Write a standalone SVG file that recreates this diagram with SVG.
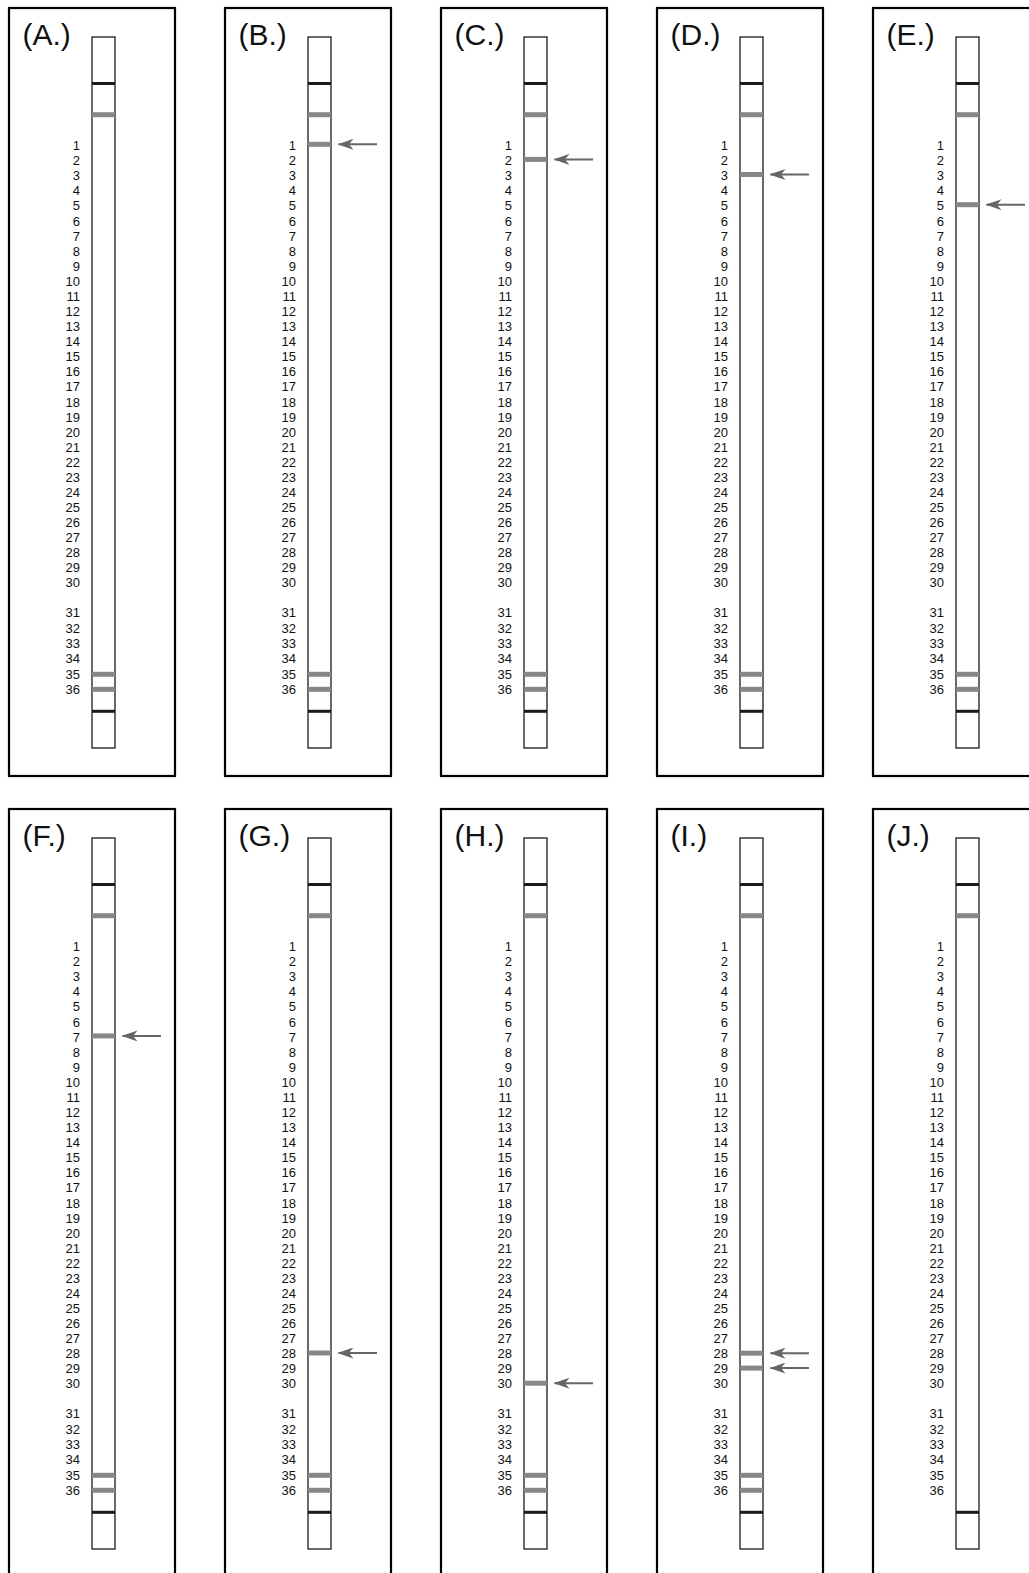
<svg xmlns="http://www.w3.org/2000/svg" width="1029" height="1573" viewBox="0 0 1029 1573">
<style>
.frame{fill:none;stroke:#000;stroke-width:2.2}
.strip{fill:#fff;stroke:#1a1a1a;stroke-width:1.3}
.blk{fill:#1a1a1a}
.gry{fill:#878787}
.ttl{font-family:"Liberation Sans",Arial,sans-serif;font-size:30px;fill:#111}
.lbl{font-family:"Liberation Sans",Arial,sans-serif;font-size:13px;fill:#111;text-anchor:end}
.arr{stroke:#666;stroke-width:2;fill:none}
</style>
<defs>
<marker id="ah" markerUnits="userSpaceOnUse" viewBox="0 0 16 11" refX="15" refY="5.5" markerWidth="16" markerHeight="11" orient="auto">
<path d="M0,0 L16,5.5 L0,11 L4.5,5.5 Z" fill="#666"/>
</marker>
</defs>
<g id="panel-A" transform="translate(0,0)">
<rect class="frame" x="9" y="8" width="166" height="768"/>
<text class="ttl" x="22.5" y="44.5">(A.)</text>
<rect class="strip" x="92" y="37" width="23" height="711"/>
<rect class="blk" x="92" y="82" width="23" height="3"/>
<rect class="gry" x="92" y="112.2" width="23" height="5"/>
<rect class="gry" x="92" y="671.8" width="23" height="5"/>
<rect class="gry" x="92" y="686.8" width="23" height="5"/>
<rect class="blk" x="92" y="709.8" width="23" height="3"/>
<text class="lbl"><tspan x="80" y="150.1">1</tspan><tspan x="80" y="165.2">2</tspan><tspan x="80" y="180.3">3</tspan><tspan x="80" y="195.3">4</tspan><tspan x="80" y="210.4">5</tspan><tspan x="80" y="225.5">6</tspan><tspan x="80" y="240.6">7</tspan><tspan x="80" y="255.7">8</tspan><tspan x="80" y="270.7">9</tspan><tspan x="80" y="285.8">10</tspan><tspan x="80" y="300.9">11</tspan><tspan x="80" y="316">12</tspan><tspan x="80" y="331.1">13</tspan><tspan x="80" y="346.1">14</tspan><tspan x="80" y="361.2">15</tspan><tspan x="80" y="376.3">16</tspan><tspan x="80" y="391.4">17</tspan><tspan x="80" y="406.5">18</tspan><tspan x="80" y="421.5">19</tspan><tspan x="80" y="436.6">20</tspan><tspan x="80" y="451.7">21</tspan><tspan x="80" y="466.8">22</tspan><tspan x="80" y="481.9">23</tspan><tspan x="80" y="496.9">24</tspan><tspan x="80" y="512">25</tspan><tspan x="80" y="527.1">26</tspan><tspan x="80" y="542.2">27</tspan><tspan x="80" y="557.3">28</tspan><tspan x="80" y="572.4">29</tspan><tspan x="80" y="587.4">30</tspan><tspan x="80" y="617.3">31</tspan><tspan x="80" y="632.6">32</tspan><tspan x="80" y="647.9">33</tspan><tspan x="80" y="663.2">34</tspan><tspan x="80" y="678.5">35</tspan><tspan x="80" y="693.8">36</tspan></text>
</g>
<g id="panel-B" transform="translate(216,0)">
<rect class="frame" x="9" y="8" width="166" height="768"/>
<text class="ttl" x="22.5" y="44.5">(B.)</text>
<rect class="strip" x="92" y="37" width="23" height="711"/>
<rect class="blk" x="92" y="82" width="23" height="3"/>
<rect class="gry" x="92" y="112.2" width="23" height="5"/>
<rect class="gry" x="92" y="141.8" width="23" height="5"/>
<rect class="gry" x="92" y="671.8" width="23" height="5"/>
<rect class="gry" x="92" y="686.8" width="23" height="5"/>
<rect class="blk" x="92" y="709.8" width="23" height="3"/>
<text class="lbl"><tspan x="80" y="150.1">1</tspan><tspan x="80" y="165.2">2</tspan><tspan x="80" y="180.3">3</tspan><tspan x="80" y="195.3">4</tspan><tspan x="80" y="210.4">5</tspan><tspan x="80" y="225.5">6</tspan><tspan x="80" y="240.6">7</tspan><tspan x="80" y="255.7">8</tspan><tspan x="80" y="270.7">9</tspan><tspan x="80" y="285.8">10</tspan><tspan x="80" y="300.9">11</tspan><tspan x="80" y="316">12</tspan><tspan x="80" y="331.1">13</tspan><tspan x="80" y="346.1">14</tspan><tspan x="80" y="361.2">15</tspan><tspan x="80" y="376.3">16</tspan><tspan x="80" y="391.4">17</tspan><tspan x="80" y="406.5">18</tspan><tspan x="80" y="421.5">19</tspan><tspan x="80" y="436.6">20</tspan><tspan x="80" y="451.7">21</tspan><tspan x="80" y="466.8">22</tspan><tspan x="80" y="481.9">23</tspan><tspan x="80" y="496.9">24</tspan><tspan x="80" y="512">25</tspan><tspan x="80" y="527.1">26</tspan><tspan x="80" y="542.2">27</tspan><tspan x="80" y="557.3">28</tspan><tspan x="80" y="572.4">29</tspan><tspan x="80" y="587.4">30</tspan><tspan x="80" y="617.3">31</tspan><tspan x="80" y="632.6">32</tspan><tspan x="80" y="647.9">33</tspan><tspan x="80" y="663.2">34</tspan><tspan x="80" y="678.5">35</tspan><tspan x="80" y="693.8">36</tspan></text>
</g>
<g id="panel-C" transform="translate(432,0)">
<rect class="frame" x="9" y="8" width="166" height="768"/>
<text class="ttl" x="22.5" y="44.5">(C.)</text>
<rect class="strip" x="92" y="37" width="23" height="711"/>
<rect class="blk" x="92" y="82" width="23" height="3"/>
<rect class="gry" x="92" y="112.2" width="23" height="5"/>
<rect class="gry" x="92" y="156.9" width="23" height="5"/>
<rect class="gry" x="92" y="671.8" width="23" height="5"/>
<rect class="gry" x="92" y="686.8" width="23" height="5"/>
<rect class="blk" x="92" y="709.8" width="23" height="3"/>
<text class="lbl"><tspan x="80" y="150.1">1</tspan><tspan x="80" y="165.2">2</tspan><tspan x="80" y="180.3">3</tspan><tspan x="80" y="195.3">4</tspan><tspan x="80" y="210.4">5</tspan><tspan x="80" y="225.5">6</tspan><tspan x="80" y="240.6">7</tspan><tspan x="80" y="255.7">8</tspan><tspan x="80" y="270.7">9</tspan><tspan x="80" y="285.8">10</tspan><tspan x="80" y="300.9">11</tspan><tspan x="80" y="316">12</tspan><tspan x="80" y="331.1">13</tspan><tspan x="80" y="346.1">14</tspan><tspan x="80" y="361.2">15</tspan><tspan x="80" y="376.3">16</tspan><tspan x="80" y="391.4">17</tspan><tspan x="80" y="406.5">18</tspan><tspan x="80" y="421.5">19</tspan><tspan x="80" y="436.6">20</tspan><tspan x="80" y="451.7">21</tspan><tspan x="80" y="466.8">22</tspan><tspan x="80" y="481.9">23</tspan><tspan x="80" y="496.9">24</tspan><tspan x="80" y="512">25</tspan><tspan x="80" y="527.1">26</tspan><tspan x="80" y="542.2">27</tspan><tspan x="80" y="557.3">28</tspan><tspan x="80" y="572.4">29</tspan><tspan x="80" y="587.4">30</tspan><tspan x="80" y="617.3">31</tspan><tspan x="80" y="632.6">32</tspan><tspan x="80" y="647.9">33</tspan><tspan x="80" y="663.2">34</tspan><tspan x="80" y="678.5">35</tspan><tspan x="80" y="693.8">36</tspan></text>
</g>
<g id="panel-D" transform="translate(648,0)">
<rect class="frame" x="9" y="8" width="166" height="768"/>
<text class="ttl" x="22.5" y="44.5">(D.)</text>
<rect class="strip" x="92" y="37" width="23" height="711"/>
<rect class="blk" x="92" y="82" width="23" height="3"/>
<rect class="gry" x="92" y="112.2" width="23" height="5"/>
<rect class="gry" x="92" y="172" width="23" height="5"/>
<rect class="gry" x="92" y="671.8" width="23" height="5"/>
<rect class="gry" x="92" y="686.8" width="23" height="5"/>
<rect class="blk" x="92" y="709.8" width="23" height="3"/>
<text class="lbl"><tspan x="80" y="150.1">1</tspan><tspan x="80" y="165.2">2</tspan><tspan x="80" y="180.3">3</tspan><tspan x="80" y="195.3">4</tspan><tspan x="80" y="210.4">5</tspan><tspan x="80" y="225.5">6</tspan><tspan x="80" y="240.6">7</tspan><tspan x="80" y="255.7">8</tspan><tspan x="80" y="270.7">9</tspan><tspan x="80" y="285.8">10</tspan><tspan x="80" y="300.9">11</tspan><tspan x="80" y="316">12</tspan><tspan x="80" y="331.1">13</tspan><tspan x="80" y="346.1">14</tspan><tspan x="80" y="361.2">15</tspan><tspan x="80" y="376.3">16</tspan><tspan x="80" y="391.4">17</tspan><tspan x="80" y="406.5">18</tspan><tspan x="80" y="421.5">19</tspan><tspan x="80" y="436.6">20</tspan><tspan x="80" y="451.7">21</tspan><tspan x="80" y="466.8">22</tspan><tspan x="80" y="481.9">23</tspan><tspan x="80" y="496.9">24</tspan><tspan x="80" y="512">25</tspan><tspan x="80" y="527.1">26</tspan><tspan x="80" y="542.2">27</tspan><tspan x="80" y="557.3">28</tspan><tspan x="80" y="572.4">29</tspan><tspan x="80" y="587.4">30</tspan><tspan x="80" y="617.3">31</tspan><tspan x="80" y="632.6">32</tspan><tspan x="80" y="647.9">33</tspan><tspan x="80" y="663.2">34</tspan><tspan x="80" y="678.5">35</tspan><tspan x="80" y="693.8">36</tspan></text>
</g>
<g id="panel-E" transform="translate(864,0)">
<rect class="frame" x="9" y="8" width="166" height="768"/>
<text class="ttl" x="22.5" y="44.5">(E.)</text>
<rect class="strip" x="92" y="37" width="23" height="711"/>
<rect class="blk" x="92" y="82" width="23" height="3"/>
<rect class="gry" x="92" y="112.2" width="23" height="5"/>
<rect class="gry" x="92" y="202.2" width="23" height="5"/>
<rect class="gry" x="92" y="671.8" width="23" height="5"/>
<rect class="gry" x="92" y="686.8" width="23" height="5"/>
<rect class="blk" x="92" y="709.8" width="23" height="3"/>
<text class="lbl"><tspan x="80" y="150.1">1</tspan><tspan x="80" y="165.2">2</tspan><tspan x="80" y="180.3">3</tspan><tspan x="80" y="195.3">4</tspan><tspan x="80" y="210.4">5</tspan><tspan x="80" y="225.5">6</tspan><tspan x="80" y="240.6">7</tspan><tspan x="80" y="255.7">8</tspan><tspan x="80" y="270.7">9</tspan><tspan x="80" y="285.8">10</tspan><tspan x="80" y="300.9">11</tspan><tspan x="80" y="316">12</tspan><tspan x="80" y="331.1">13</tspan><tspan x="80" y="346.1">14</tspan><tspan x="80" y="361.2">15</tspan><tspan x="80" y="376.3">16</tspan><tspan x="80" y="391.4">17</tspan><tspan x="80" y="406.5">18</tspan><tspan x="80" y="421.5">19</tspan><tspan x="80" y="436.6">20</tspan><tspan x="80" y="451.7">21</tspan><tspan x="80" y="466.8">22</tspan><tspan x="80" y="481.9">23</tspan><tspan x="80" y="496.9">24</tspan><tspan x="80" y="512">25</tspan><tspan x="80" y="527.1">26</tspan><tspan x="80" y="542.2">27</tspan><tspan x="80" y="557.3">28</tspan><tspan x="80" y="572.4">29</tspan><tspan x="80" y="587.4">30</tspan><tspan x="80" y="617.3">31</tspan><tspan x="80" y="632.6">32</tspan><tspan x="80" y="647.9">33</tspan><tspan x="80" y="663.2">34</tspan><tspan x="80" y="678.5">35</tspan><tspan x="80" y="693.8">36</tspan></text>
</g>
<g id="panel-F" transform="translate(0,801)">
<rect class="frame" x="9" y="8" width="166" height="800"/>
<text class="ttl" x="22.5" y="44.5">(F.)</text>
<rect class="strip" x="92" y="37" width="23" height="711"/>
<rect class="blk" x="92" y="82" width="23" height="3"/>
<rect class="gry" x="92" y="112.2" width="23" height="5"/>
<rect class="gry" x="92" y="232.4" width="23" height="5"/>
<rect class="gry" x="92" y="671.8" width="23" height="5"/>
<rect class="gry" x="92" y="686.8" width="23" height="5"/>
<rect class="blk" x="92" y="709.8" width="23" height="3"/>
<text class="lbl"><tspan x="80" y="150.1">1</tspan><tspan x="80" y="165.2">2</tspan><tspan x="80" y="180.3">3</tspan><tspan x="80" y="195.3">4</tspan><tspan x="80" y="210.4">5</tspan><tspan x="80" y="225.5">6</tspan><tspan x="80" y="240.6">7</tspan><tspan x="80" y="255.7">8</tspan><tspan x="80" y="270.7">9</tspan><tspan x="80" y="285.8">10</tspan><tspan x="80" y="300.9">11</tspan><tspan x="80" y="316">12</tspan><tspan x="80" y="331.1">13</tspan><tspan x="80" y="346.1">14</tspan><tspan x="80" y="361.2">15</tspan><tspan x="80" y="376.3">16</tspan><tspan x="80" y="391.4">17</tspan><tspan x="80" y="406.5">18</tspan><tspan x="80" y="421.5">19</tspan><tspan x="80" y="436.6">20</tspan><tspan x="80" y="451.7">21</tspan><tspan x="80" y="466.8">22</tspan><tspan x="80" y="481.9">23</tspan><tspan x="80" y="496.9">24</tspan><tspan x="80" y="512">25</tspan><tspan x="80" y="527.1">26</tspan><tspan x="80" y="542.2">27</tspan><tspan x="80" y="557.3">28</tspan><tspan x="80" y="572.4">29</tspan><tspan x="80" y="587.4">30</tspan><tspan x="80" y="617.3">31</tspan><tspan x="80" y="632.6">32</tspan><tspan x="80" y="647.9">33</tspan><tspan x="80" y="663.2">34</tspan><tspan x="80" y="678.5">35</tspan><tspan x="80" y="693.8">36</tspan></text>
</g>
<g id="panel-G" transform="translate(216,801)">
<rect class="frame" x="9" y="8" width="166" height="800"/>
<text class="ttl" x="22.5" y="44.5">(G.)</text>
<rect class="strip" x="92" y="37" width="23" height="711"/>
<rect class="blk" x="92" y="82" width="23" height="3"/>
<rect class="gry" x="92" y="112.2" width="23" height="5"/>
<rect class="gry" x="92" y="549.5" width="23" height="5"/>
<rect class="gry" x="92" y="671.8" width="23" height="5"/>
<rect class="gry" x="92" y="686.8" width="23" height="5"/>
<rect class="blk" x="92" y="709.8" width="23" height="3"/>
<text class="lbl"><tspan x="80" y="150.1">1</tspan><tspan x="80" y="165.2">2</tspan><tspan x="80" y="180.3">3</tspan><tspan x="80" y="195.3">4</tspan><tspan x="80" y="210.4">5</tspan><tspan x="80" y="225.5">6</tspan><tspan x="80" y="240.6">7</tspan><tspan x="80" y="255.7">8</tspan><tspan x="80" y="270.7">9</tspan><tspan x="80" y="285.8">10</tspan><tspan x="80" y="300.9">11</tspan><tspan x="80" y="316">12</tspan><tspan x="80" y="331.1">13</tspan><tspan x="80" y="346.1">14</tspan><tspan x="80" y="361.2">15</tspan><tspan x="80" y="376.3">16</tspan><tspan x="80" y="391.4">17</tspan><tspan x="80" y="406.5">18</tspan><tspan x="80" y="421.5">19</tspan><tspan x="80" y="436.6">20</tspan><tspan x="80" y="451.7">21</tspan><tspan x="80" y="466.8">22</tspan><tspan x="80" y="481.9">23</tspan><tspan x="80" y="496.9">24</tspan><tspan x="80" y="512">25</tspan><tspan x="80" y="527.1">26</tspan><tspan x="80" y="542.2">27</tspan><tspan x="80" y="557.3">28</tspan><tspan x="80" y="572.4">29</tspan><tspan x="80" y="587.4">30</tspan><tspan x="80" y="617.3">31</tspan><tspan x="80" y="632.6">32</tspan><tspan x="80" y="647.9">33</tspan><tspan x="80" y="663.2">34</tspan><tspan x="80" y="678.5">35</tspan><tspan x="80" y="693.8">36</tspan></text>
</g>
<g id="panel-H" transform="translate(432,801)">
<rect class="frame" x="9" y="8" width="166" height="800"/>
<text class="ttl" x="22.5" y="44.5">(H.)</text>
<rect class="strip" x="92" y="37" width="23" height="711"/>
<rect class="blk" x="92" y="82" width="23" height="3"/>
<rect class="gry" x="92" y="112.2" width="23" height="5"/>
<rect class="gry" x="92" y="579.7" width="23" height="5"/>
<rect class="gry" x="92" y="671.8" width="23" height="5"/>
<rect class="gry" x="92" y="686.8" width="23" height="5"/>
<rect class="blk" x="92" y="709.8" width="23" height="3"/>
<text class="lbl"><tspan x="80" y="150.1">1</tspan><tspan x="80" y="165.2">2</tspan><tspan x="80" y="180.3">3</tspan><tspan x="80" y="195.3">4</tspan><tspan x="80" y="210.4">5</tspan><tspan x="80" y="225.5">6</tspan><tspan x="80" y="240.6">7</tspan><tspan x="80" y="255.7">8</tspan><tspan x="80" y="270.7">9</tspan><tspan x="80" y="285.8">10</tspan><tspan x="80" y="300.9">11</tspan><tspan x="80" y="316">12</tspan><tspan x="80" y="331.1">13</tspan><tspan x="80" y="346.1">14</tspan><tspan x="80" y="361.2">15</tspan><tspan x="80" y="376.3">16</tspan><tspan x="80" y="391.4">17</tspan><tspan x="80" y="406.5">18</tspan><tspan x="80" y="421.5">19</tspan><tspan x="80" y="436.6">20</tspan><tspan x="80" y="451.7">21</tspan><tspan x="80" y="466.8">22</tspan><tspan x="80" y="481.9">23</tspan><tspan x="80" y="496.9">24</tspan><tspan x="80" y="512">25</tspan><tspan x="80" y="527.1">26</tspan><tspan x="80" y="542.2">27</tspan><tspan x="80" y="557.3">28</tspan><tspan x="80" y="572.4">29</tspan><tspan x="80" y="587.4">30</tspan><tspan x="80" y="617.3">31</tspan><tspan x="80" y="632.6">32</tspan><tspan x="80" y="647.9">33</tspan><tspan x="80" y="663.2">34</tspan><tspan x="80" y="678.5">35</tspan><tspan x="80" y="693.8">36</tspan></text>
</g>
<g id="panel-I" transform="translate(648,801)">
<rect class="frame" x="9" y="8" width="166" height="800"/>
<text class="ttl" x="22.5" y="44.5">(I.)</text>
<rect class="strip" x="92" y="37" width="23" height="711"/>
<rect class="blk" x="92" y="82" width="23" height="3"/>
<rect class="gry" x="92" y="112.2" width="23" height="5"/>
<rect class="gry" x="92" y="549.7" width="23" height="5"/>
<rect class="gry" x="92" y="564.6" width="23" height="5"/>
<rect class="gry" x="92" y="671.8" width="23" height="5"/>
<rect class="gry" x="92" y="686.8" width="23" height="5"/>
<rect class="blk" x="92" y="709.8" width="23" height="3"/>
<text class="lbl"><tspan x="80" y="150.1">1</tspan><tspan x="80" y="165.2">2</tspan><tspan x="80" y="180.3">3</tspan><tspan x="80" y="195.3">4</tspan><tspan x="80" y="210.4">5</tspan><tspan x="80" y="225.5">6</tspan><tspan x="80" y="240.6">7</tspan><tspan x="80" y="255.7">8</tspan><tspan x="80" y="270.7">9</tspan><tspan x="80" y="285.8">10</tspan><tspan x="80" y="300.9">11</tspan><tspan x="80" y="316">12</tspan><tspan x="80" y="331.1">13</tspan><tspan x="80" y="346.1">14</tspan><tspan x="80" y="361.2">15</tspan><tspan x="80" y="376.3">16</tspan><tspan x="80" y="391.4">17</tspan><tspan x="80" y="406.5">18</tspan><tspan x="80" y="421.5">19</tspan><tspan x="80" y="436.6">20</tspan><tspan x="80" y="451.7">21</tspan><tspan x="80" y="466.8">22</tspan><tspan x="80" y="481.9">23</tspan><tspan x="80" y="496.9">24</tspan><tspan x="80" y="512">25</tspan><tspan x="80" y="527.1">26</tspan><tspan x="80" y="542.2">27</tspan><tspan x="80" y="557.3">28</tspan><tspan x="80" y="572.4">29</tspan><tspan x="80" y="587.4">30</tspan><tspan x="80" y="617.3">31</tspan><tspan x="80" y="632.6">32</tspan><tspan x="80" y="647.9">33</tspan><tspan x="80" y="663.2">34</tspan><tspan x="80" y="678.5">35</tspan><tspan x="80" y="693.8">36</tspan></text>
</g>
<g id="panel-J" transform="translate(864,801)">
<rect class="frame" x="9" y="8" width="166" height="800"/>
<text class="ttl" x="22.5" y="44.5">(J.)</text>
<rect class="strip" x="92" y="37" width="23" height="711"/>
<rect class="blk" x="92" y="82" width="23" height="3"/>
<rect class="gry" x="92" y="112.2" width="23" height="5"/>
<rect class="blk" x="92" y="709.8" width="23" height="3"/>
<text class="lbl"><tspan x="80" y="150.1">1</tspan><tspan x="80" y="165.2">2</tspan><tspan x="80" y="180.3">3</tspan><tspan x="80" y="195.3">4</tspan><tspan x="80" y="210.4">5</tspan><tspan x="80" y="225.5">6</tspan><tspan x="80" y="240.6">7</tspan><tspan x="80" y="255.7">8</tspan><tspan x="80" y="270.7">9</tspan><tspan x="80" y="285.8">10</tspan><tspan x="80" y="300.9">11</tspan><tspan x="80" y="316">12</tspan><tspan x="80" y="331.1">13</tspan><tspan x="80" y="346.1">14</tspan><tspan x="80" y="361.2">15</tspan><tspan x="80" y="376.3">16</tspan><tspan x="80" y="391.4">17</tspan><tspan x="80" y="406.5">18</tspan><tspan x="80" y="421.5">19</tspan><tspan x="80" y="436.6">20</tspan><tspan x="80" y="451.7">21</tspan><tspan x="80" y="466.8">22</tspan><tspan x="80" y="481.9">23</tspan><tspan x="80" y="496.9">24</tspan><tspan x="80" y="512">25</tspan><tspan x="80" y="527.1">26</tspan><tspan x="80" y="542.2">27</tspan><tspan x="80" y="557.3">28</tspan><tspan x="80" y="572.4">29</tspan><tspan x="80" y="587.4">30</tspan><tspan x="80" y="617.3">31</tspan><tspan x="80" y="632.6">32</tspan><tspan x="80" y="647.9">33</tspan><tspan x="80" y="663.2">34</tspan><tspan x="80" y="678.5">35</tspan><tspan x="80" y="693.8">36</tspan></text>
</g>
<g id="connectors">
<line class="arr" x1="377" y1="144.3" x2="338.5" y2="144.3" marker-end="url(#ah)"/>
<line class="arr" x1="593" y1="159.4" x2="554.5" y2="159.4" marker-end="url(#ah)"/>
<line class="arr" x1="809" y1="174.5" x2="770.5" y2="174.5" marker-end="url(#ah)"/>
<line class="arr" x1="1025" y1="204.7" x2="986.5" y2="204.7" marker-end="url(#ah)"/>
<line class="arr" x1="161" y1="1035.9" x2="122.5" y2="1035.9" marker-end="url(#ah)"/>
<line class="arr" x1="377" y1="1353" x2="338.5" y2="1353" marker-end="url(#ah)"/>
<line class="arr" x1="593" y1="1383.2" x2="554.5" y2="1383.2" marker-end="url(#ah)"/>
<line class="arr" x1="809" y1="1353.2" x2="770.5" y2="1353.2" marker-end="url(#ah)"/>
<line class="arr" x1="809" y1="1368.1" x2="770.5" y2="1368.1" marker-end="url(#ah)"/>
</g>
</svg>
